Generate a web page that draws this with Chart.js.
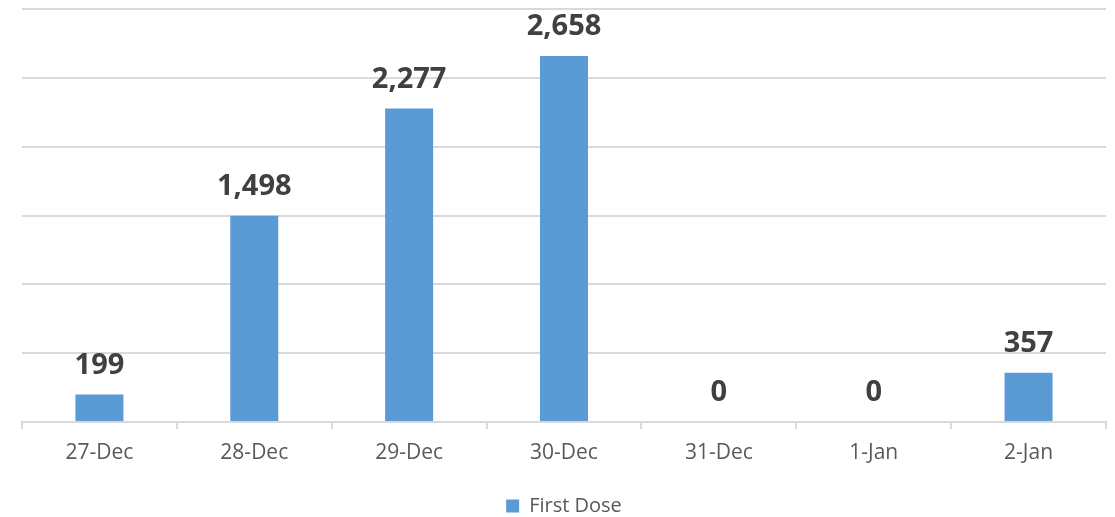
<!DOCTYPE html>
<html>
<head>
<meta charset="utf-8">
<script src="https://cdn.jsdelivr.net/npm/chart.js@4"></script>
<style>
  html, body { margin: 0; padding: 0; background: #fff; }
  #wrap { width: 1115px; height: 517px; }
</style>
</head>
<body>
<div id="wrap"><canvas id="myChart" width="1115" height="517"></canvas></div>
<script>
const labels = ['27-Dec', '28-Dec', '29-Dec', '30-Dec', '31-Dec', '1-Jan', '2-Jan'];
const firstDose = [199, 1498, 2277, 2658, 0, 0, 357];

const valueLabels = {
    id: 'valueLabels',
    afterDatasetsDraw(chart) {
        const c = chart.ctx;
        const meta = chart.getDatasetMeta(0);
        c.save();
        c.font = 'bold 29px "Open Sans"';
        c.fillStyle = '#404040';
        c.textAlign = 'center';
        c.textBaseline = 'alphabetic';
        meta.data.forEach((bar, i) => {
            c.fillText(firstDose[i].toLocaleString('en-US'), bar.x, bar.y - 21);
        });
        c.restore();
    }
};

const ctx = document.getElementById('myChart').getContext('2d');
const myChart = new Chart(ctx, {
    type: 'bar',
    data: {
        labels: labels,
        datasets: [{
            label: 'First Dose',
            data: firstDose,
            backgroundColor: '#5b9bd5',
            barPercentage: 0.31,
            categoryPercentage: 1
        }]
    },
    options: {
        responsive: false,
        animation: false,
        layout: { padding: { left: 22, right: 9, top: 9, bottom: -9 } },
        plugins: {
            legend: {
                position: 'bottom',
                labels: {
                    boxWidth: 13,
                    boxHeight: 13,
                    color: '#595959',
                    font: { family: 'Open Sans', size: 20 },
                    padding: 2
                }
            },
            tooltip: { enabled: false }
        },
        scales: {
            x: {
                afterFit(scale) { scale.height = 72; },
                grid: {
                    offset: true,
                    drawOnChartArea: false,
                    color: '#d9d9d9',
                    lineWidth: 2,
                    tickLength: 7
                },
                border: { color: '#d9d9d9', width: 2 },
                ticks: {
                    color: '#595959',
                    font: { family: 'Open Sans', size: 21 },
                    padding: 11
                }
            },
            y: {
                min: 0,
                max: 3000,
                ticks: { display: false, stepSize: 500 },
                grid: { color: '#d9d9d9', lineWidth: 2, drawTicks: false },
                border: { display: false }
            }
        }
    },
    plugins: [valueLabels]
});
</script>
</body>
</html>
